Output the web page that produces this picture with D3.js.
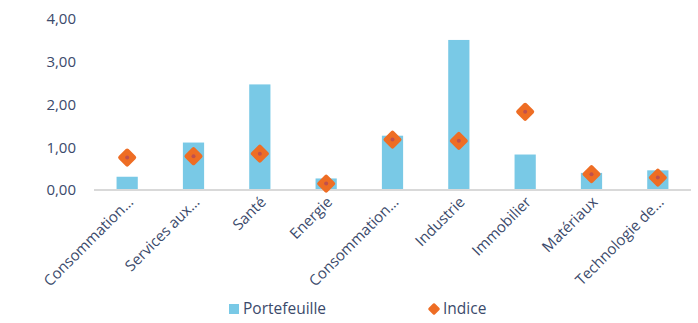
<!DOCTYPE html>
<html>
<head>
<meta charset="utf-8">
<script src="https://cdn.jsdelivr.net/npm/d3@7"></script>
<style>
  body { margin: 0; background: #fff; }
  text { font-family: "Open Sans", sans-serif; fill: #3b4a6b; }
</style>
</head>
<body>
<svg width="698" height="323"></svg>
<script>
const categories = ['Consommation…', 'Services aux…', 'Santé', 'Energie', 'Consommation…',
  'Industrie', 'Immobilier', 'Matériaux', 'Technologie de…'];
const portefeuille = [0.31, 1.11, 2.47, 0.27, 1.27, 3.51, 0.83, 0.40, 0.46];
const indice = [0.76, 0.79, 0.85, 0.15, 1.18, 1.15, 1.83, 0.37, 0.29];
const yTicks = [0, 1, 2, 3, 4];

const svg = d3.select('svg');
const plotLeft = 94, plotRight = 691, plotTop = 19, plotBottom = 190;

const x = d3.scaleBand()
  .domain(d3.range(categories.length))
  .range([plotLeft, plotRight])
  .paddingInner(0.68)
  .paddingOuter(0.34);

const y = d3.scaleLinear().domain([0, 4]).range([plotBottom, plotTop]);

const fmt = d => d3.format('.2f')(d).replace('.', ',');

// y labels
svg.append('g')
  .selectAll('text')
  .data(yTicks)
  .join('text')
    .attr('x', 76)
    .attr('y', d => y(d))
    .attr('dy', '0.35em')
    .attr('text-anchor', 'end')
    .attr('font-size', 15)
    .text(fmt);

// bars
svg.append('g')
  .selectAll('rect')
  .data(portefeuille)
  .join('rect')
    .attr('x', (d, i) => x(i))
    .attr('y', d => y(d))
    .attr('width', x.bandwidth())
    .attr('height', d => y(0) - y(d))
    .attr('fill', '#79c9e6');

// axis line
svg.append('line')
  .attr('x1', plotLeft).attr('x2', plotRight)
  .attr('y1', y(0)).attr('y2', y(0))
  .attr('stroke', '#d9d9d9')
  .attr('stroke-width', 2);

// markers
const diamond = (cx, cy, r) =>
  `M${cx},${cy - r}L${cx + r},${cy}L${cx},${cy + r}L${cx - r},${cy}Z`;

const cx = i => x(i) + x.bandwidth() / 2;

const marks = svg.append('g')
  .selectAll('g')
  .data(indice)
  .join('g');

marks.append('path')
  .attr('d', (d, i) => diamond(cx(i), y(d), 7))
  .attr('fill', '#ee6d24')
  .attr('stroke', '#ee6d24')
  .attr('stroke-width', 4)
  .attr('stroke-linejoin', 'round');

marks.append('circle')
  .attr('cx', (d, i) => cx(i))
  .attr('cy', d => y(d))
  .attr('r', 2)
  .attr('fill', '#c0504d');

// category labels
svg.append('g')
  .selectAll('text')
  .data(categories)
  .join('text')
    .attr('text-anchor', 'end')
    .attr('font-size', 15)
    .attr('transform', (d, i) => `translate(${cx(i) + 7},${plotBottom + 13}) rotate(-45)`)
    .text(d => d);

// legend
const legend = svg.append('g');
legend.append('rect')
  .attr('x', 229).attr('y', 304)
  .attr('width', 10).attr('height', 10)
  .attr('fill', '#79c9e6');
legend.append('text')
  .attr('x', 243).attr('y', 309)
  .attr('dy', '0.35em')
  .attr('font-size', 15.5)
  .text('Portefeuille');
legend.append('path')
  .attr('d', diamond(434, 309, 4.5))
  .attr('fill', '#ee6d24')
  .attr('stroke', '#ee6d24')
  .attr('stroke-width', 2.5)
  .attr('stroke-linejoin', 'round');
legend.append('text')
  .attr('x', 443).attr('y', 309)
  .attr('dy', '0.35em')
  .attr('font-size', 15.5)
  .text('Indice');
</script>
</body>
</html>
